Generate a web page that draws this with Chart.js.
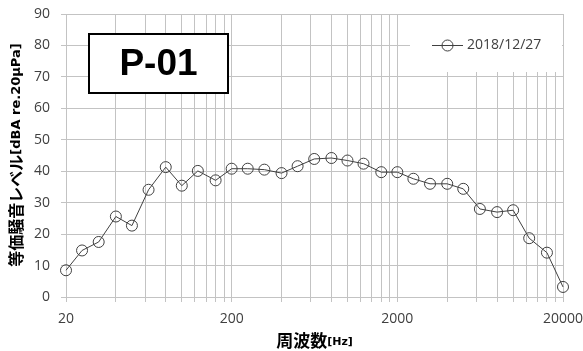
<!DOCTYPE html>
<html>
<head>
<meta charset="utf-8">
<script src="https://cdn.jsdelivr.net/npm/chart.js@4/dist/chart.umd.min.js"></script>
<style>
html,body{margin:0;padding:0;background:#fff;}
#wrap{width:583px;height:351px;position:relative;}
</style>
</head>
<body>
<div id="wrap"><canvas id="c" width="583" height="351"></canvas></div>
<script>
const frequencies = [20,25,31.5,40,50,63,80,100,125,160,200,250,315,400,500,630,800,1000,1250,1600,2000,2500,3150,4000,5000,6300,8000,10000,12500,16000,20000];
const levels = [8.5,14.8,17.5,25.6,22.7,34.1,41.3,35.4,40.1,37.1,40.8,40.8,40.5,39.4,41.6,43.9,44.2,43.4,42.4,39.7,39.7,37.6,36.0,36.0,34.4,28.0,27.0,27.6,18.7,14.1,3.2];
const seriesLabel = "2018/12/27";
const xTickLabels = ["20","200","2000","20000"];
const xTitleMain = "周波数", xTitleUnit = "[Hz]";
const yTitleMain = "等価騒音レベル", yTitleUnit = "[dBA re.20μPa]";
const panelLabel = "P-01";

// Excel-style log gridlines: 20*k per decade
const xGridValues = [];
[20,200,2000].forEach(d => { for (let k = 1; k <= 9; k++) xGridValues.push(d*k); });
xGridValues.push(20000);

const GRID = '#c3c3c3';
const TXT = '#404040';
const tickFont = {family:"'Open Sans', sans-serif", size:14};

const overlay = {
  id:'overlay',
  beforeDatasetsDraw(chart){
    const ctx = chart.ctx;
    ctx.save();
    // legend background
    ctx.fillStyle = '#fff';
    ctx.fillRect(410, 15, 152, 57);
    // legend sample
    ctx.strokeStyle = TXT; ctx.lineWidth = 1;
    ctx.beginPath(); ctx.moveTo(432, 45.5); ctx.lineTo(463, 45.5); ctx.stroke();
    ctx.beginPath(); ctx.arc(447.5, 45.5, 5.5, 0, Math.PI*2); ctx.stroke();
    ctx.fillStyle = TXT;
    ctx.font = "14px 'Open Sans', sans-serif";
    ctx.textBaseline = 'middle'; ctx.textAlign = 'left';
    ctx.fillText(chart.data.datasets[0].label, 467, 45);
    // P-01 box
    ctx.fillStyle = '#fff';
    ctx.fillRect(89, 34, 139, 59);
    ctx.strokeStyle = '#000'; ctx.lineWidth = 2;
    ctx.strokeRect(89, 34, 139, 59);
    ctx.fillStyle = '#000';
    ctx.font = "bold 37px 'Liberation Sans', Arial, sans-serif";
    ctx.textAlign = 'center'; ctx.textBaseline = 'middle';
    ctx.fillText(panelLabel, 158.5, 65);
    ctx.restore();
  },
  afterDraw(chart){
    const ctx = chart.ctx, a = chart.chartArea;
    ctx.save();
    ctx.fillStyle = '#000';
    ctx.textBaseline = 'middle';
    // x title
    const fMain = "bold 17px 'Noto Sans CJK JP', sans-serif";
    const fUnit = "bold 11px 'DejaVu Sans', sans-serif";
    ctx.font = fMain; const w1 = ctx.measureText(xTitleMain).width;
    ctx.font = fUnit; const w2 = ctx.measureText(xTitleUnit).width;
    let x0 = (a.left + a.right)/2 - (w1+w2)/2;
    ctx.textAlign = 'left';
    ctx.font = fMain; ctx.fillText(xTitleMain, x0, 341);
    ctx.font = fUnit; ctx.fillText(xTitleUnit, x0 + w1, 342);
    // y title
    const gMain = "bold 16px 'Noto Sans CJK JP', sans-serif";
    const gUnit = "bold 13px 'DejaVu Sans', sans-serif";
    ctx.font = gMain; const v1 = ctx.measureText(yTitleMain).width;
    ctx.font = gUnit; const v2 = ctx.measureText(yTitleUnit).width;
    ctx.translate(16, 155);
    ctx.rotate(-Math.PI/2);
    let s0 = -(v1+v2)/2;
    ctx.font = gMain; ctx.fillText(yTitleMain, s0, 0);
    ctx.font = gUnit; ctx.fillText(yTitleUnit, s0 + v1, 0.5);
    ctx.restore();
  }
};

new Chart(document.getElementById('c'), {
  type:'line',
  data:{
    datasets:[{
      label: seriesLabel,
      data: frequencies.map((f,i)=>({x:f, y:levels[i]})),
      borderColor: TXT,
      borderWidth: 1,
      tension: 0,
      pointRadius: 5.5,
      pointHoverRadius: 5.5,
      pointBorderColor: TXT,
      pointBorderWidth: 1,
      pointBackgroundColor: 'rgba(0,0,0,0)',
      clip: false
    }]
  },
  options:{
    responsive:false,
    animation:false,
    events:[],
    layout:{padding:{top:14, right:20, left:0, bottom:0}},
    plugins:{legend:{display:false}, tooltip:{enabled:false}},
    scales:{
      x:{
        type:'logarithmic',
        min:20, max:20000,
        afterBuildTicks(scale){ scale.ticks = xGridValues.map(v=>({value:v})); },
        afterFit(scale){ scale.height = 54; scale.paddingLeft = 0; scale.paddingRight = 0; },
        grid:{color:GRID, lineWidth:1, tickLength:5, drawTicks:true},
        border:{color:GRID},
        ticks:{
          autoSkip:false, maxRotation:0, minRotation:0,
          font:tickFont, color:TXT, padding:9,
          callback(value){ const s = String(value); return xTickLabels.includes(s) ? s : ''; }
        }
      },
      y:{
        min:0, max:90,
        afterFit(scale){ scale.width = 66; scale.paddingTop = 0; scale.paddingBottom = 0; },
        grid:{color:GRID, lineWidth:1, tickLength:5},
        border:{color:GRID},
        ticks:{stepSize:10, font:tickFont, color:TXT, padding:11}
      }
    }
  },
  plugins:[overlay]
});
</script>
</body>
</html>
